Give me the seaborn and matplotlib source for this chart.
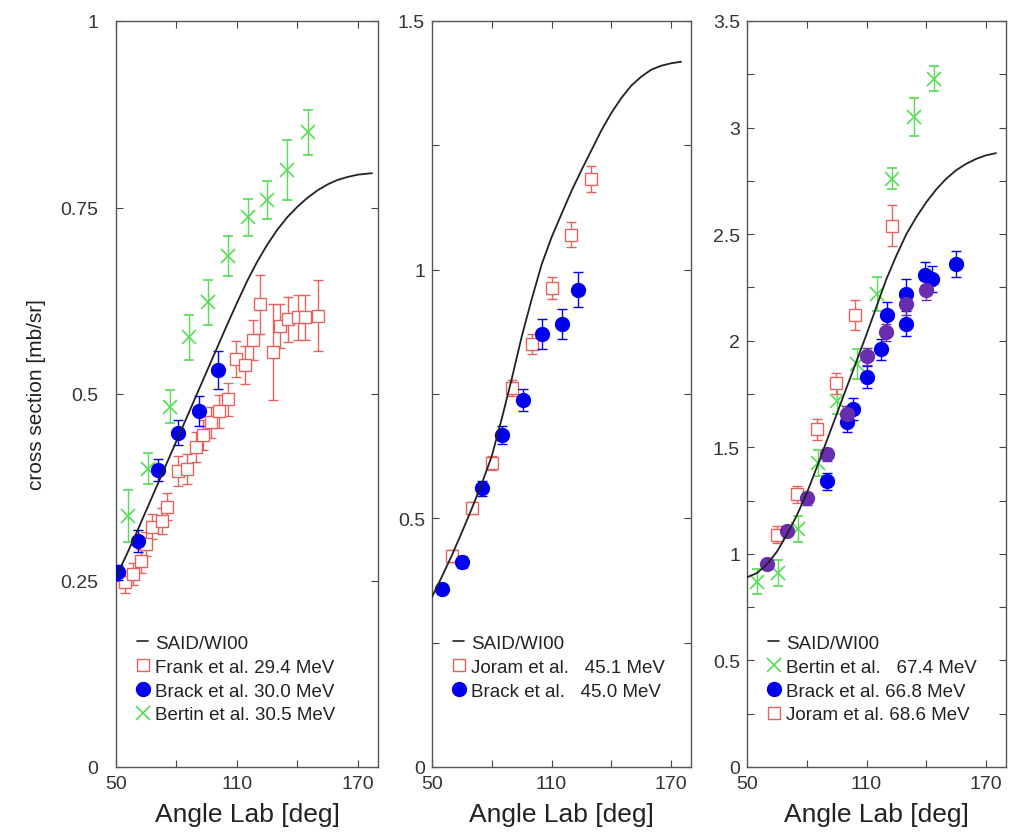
import numpy as np
import pandas as pd
import matplotlib
matplotlib.use("Agg")
import matplotlib.pyplot as plt
from matplotlib.lines import Line2D
import seaborn as sns

# ---------------- data ----------------
# Panel 1 (~30 MeV)
p1_curve_x = [50, 55, 60, 65, 70, 75, 80, 85, 90, 95, 100, 105, 110, 115, 120, 125, 130, 135, 140, 145, 150, 155, 160, 165, 170, 177]
p1_curve_y = [0.255, 0.283, 0.313, 0.344, 0.375, 0.406, 0.437, 0.468, 0.499, 0.530, 0.561, 0.592, 0.622, 0.651, 0.677, 0.700, 0.720, 0.737, 0.751, 0.763, 0.773, 0.781, 0.787, 0.791, 0.794, 0.796]
frank_x = [54.5, 58.5, 62.5, 65, 68, 73, 75.5, 81, 85, 89.5, 93, 97, 101, 105.5, 109.5, 114, 118, 121.5, 128, 131.5, 135.5, 140.5, 144, 150]
frank_y = [0.248, 0.259, 0.276, 0.299, 0.322, 0.330, 0.349, 0.397, 0.400, 0.429, 0.445, 0.462, 0.477, 0.493, 0.547, 0.539, 0.572, 0.620, 0.556, 0.591, 0.600, 0.603, 0.603, 0.605]
frank_e = [0.015, 0.015, 0.016, 0.016, 0.017, 0.017, 0.018, 0.02, 0.02, 0.02, 0.02, 0.021, 0.022, 0.022, 0.024, 0.025, 0.027, 0.04, 0.064, 0.03, 0.03, 0.03, 0.03, 0.048]
brack30_x = [51, 61, 71, 81, 91, 100.5]
brack30_y = [0.261, 0.303, 0.398, 0.448, 0.477, 0.532]
brack30_e = [0.01, 0.015, 0.015, 0.017, 0.02, 0.025]
bertin30_x = [56, 66, 77, 86, 95.5, 105.5, 115.5, 125, 135, 145.5]
bertin30_y = [0.336, 0.40, 0.483, 0.576, 0.623, 0.685, 0.737, 0.760, 0.80, 0.851]
bertin30_e = [0.035, 0.021, 0.022, 0.03, 0.03, 0.027, 0.025, 0.025, 0.04, 0.03]

# Panel 2 (~45 MeV)
p2_curve_x = [50, 55, 60, 65, 70, 75, 80, 85, 90, 95, 100, 105, 110, 115, 120, 125, 130, 135, 140, 145, 150, 155, 160, 165, 170, 175]
p2_curve_y = [0.342, 0.383, 0.426, 0.472, 0.52, 0.57, 0.625, 0.70, 0.78, 0.865, 0.94, 1.01, 1.065, 1.112, 1.158, 1.20, 1.24, 1.28, 1.315, 1.345, 1.37, 1.388, 1.402, 1.41, 1.415, 1.418]
joram45_x = [60, 70, 80, 90, 100, 110, 120, 130]
joram45_y = [0.424, 0.52, 0.612, 0.762, 0.85, 0.964, 1.07, 1.182]
joram45_e = [0.012, 0.012, 0.014, 0.016, 0.02, 0.022, 0.025, 0.026]
brack45_x = [55, 65, 75, 85, 95.5, 105, 115, 123.5]
brack45_y = [0.358, 0.412, 0.56, 0.668, 0.738, 0.87, 0.89, 0.96]
brack45_e = [0.01, 0.012, 0.015, 0.018, 0.022, 0.03, 0.03, 0.035]

# Panel 3 (~67 MeV)
p3_curve_x = [50, 55, 60, 65, 70, 75, 80, 85, 90, 95, 100, 105, 110, 115, 120, 125, 130, 135, 140, 145, 150, 155, 160, 165, 170, 175]
p3_curve_y = [0.89, 0.91, 0.95, 1.01, 1.09, 1.18, 1.285, 1.405, 1.53, 1.655, 1.78, 1.905, 2.03, 2.16, 2.29, 2.40, 2.50, 2.58, 2.65, 2.71, 2.76, 2.80, 2.83, 2.853, 2.87, 2.88]
bertin67_x = [55, 65.5, 75.5, 85.5, 95, 105, 115, 123, 134, 144]
bertin67_y = [0.87, 0.91, 1.116, 1.425, 1.716, 1.89, 2.22, 2.76, 3.05, 3.23]
bertin67_e = [0.06, 0.06, 0.06, 0.06, 0.06, 0.07, 0.08, 0.05, 0.09, 0.06]
brack67_x = [90, 100, 103, 110, 117.5, 120.5, 130, 130, 139.5, 143, 155]
brack67_y = [1.34, 1.62, 1.68, 1.83, 1.96, 2.12, 2.08, 2.22, 2.31, 2.29, 2.36]
brack67_e = [0.04, 0.05, 0.05, 0.05, 0.05, 0.06, 0.06, 0.07, 0.06, 0.06, 0.06]
brack67b_x = [60, 70, 80, 90, 100, 110, 120, 130, 140]
brack67b_y = [0.952, 1.106, 1.261, 1.467, 1.655, 1.927, 2.04, 2.17, 2.24]
brack67b_e = [0.02, 0.02, 0.03, 0.03, 0.04, 0.04, 0.04, 0.05, 0.05]
joram67_x = [65, 75, 85, 94.5, 104, 123]
joram67_y = [1.09, 1.28, 1.585, 1.80, 2.12, 2.54]
joram67_e = [0.04, 0.04, 0.05, 0.05, 0.07, 0.095]

# ---------------- style ----------------
sns.set_theme(style="ticks")
plt.rcParams["font.family"] = ["Liberation Sans", "DejaVu Sans"]

RED = "#e8615c"
BLUE = "#0000ee"
GREEN = "#55dd55"
PURPLE = "#6a2db0"
LINE = "#222222"

SQ = dict(marker="s", ms=8.5, mfc="white", mec=RED, mew=1.0)
DOT = dict(marker="o", ms=10, mfc=BLUE, mec=BLUE)
CRS = dict(marker="x", ms=10, mec=GREEN, mew=1.2)

fig = plt.figure(figsize=(10.25, 8.37), dpi=100)
H = 837.0
W = 1025.0
bottom = (H - 768) / H
height = (768 - 22) / H
axes = [
    fig.add_axes([116 / W, bottom, 262 / W, height]),
    fig.add_axes([432 / W, bottom, 259 / W, height]),
    fig.add_axes([747 / W, bottom, 259 / W, height]),
]

EB = dict(elinewidth=1.0, capsize=3.5, capthick=1.0, ls="none")


def sq(ax, x, y, e):
    ax.errorbar(x, y, yerr=e, ecolor=RED, zorder=3, **SQ, **EB)


def dot(ax, x, y, e, color=BLUE):
    st = dict(DOT)
    st["mfc"] = color
    st["mec"] = color
    ax.errorbar(x, y, yerr=e, ecolor=color, zorder=4, **st, **EB)


def cross(ax, x, y, e):
    ax.errorbar(x, y, yerr=e, ecolor=GREEN, zorder=3, **CRS, **EB)


def curve(ax, x, y):
    df = pd.DataFrame({"angle": x, "xs": y})
    sns.lineplot(data=df, x="angle", y="xs", ax=ax, color=LINE, lw=1.3, zorder=5, sort=True)


ax1, ax2, ax3 = axes

# Panel 1
curve(ax1, p1_curve_x, p1_curve_y)
sq(ax1, frank_x, frank_y, frank_e)
dot(ax1, brack30_x, brack30_y, brack30_e)
cross(ax1, bertin30_x, bertin30_y, bertin30_e)

# Panel 2
curve(ax2, p2_curve_x, p2_curve_y)
sq(ax2, joram45_x, joram45_y, joram45_e)
dot(ax2, brack45_x, brack45_y, brack45_e)

# Panel 3
curve(ax3, p3_curve_x, p3_curve_y)
cross(ax3, bertin67_x, bertin67_y, bertin67_e)
dot(ax3, brack67_x, brack67_y, brack67_e)
dot(ax3, brack67b_x, brack67b_y, brack67b_e, color=PURPLE)
sq(ax3, joram67_x, joram67_y, joram67_e)

# axes setup
limits = [(0, 1.0), (0, 1.5), (0, 3.5)]
yticks = [np.arange(0, 1.01, 0.25), np.arange(0, 1.51, 0.25), np.arange(0, 3.51, 0.25)]
ylabels_step = [0.25, 0.5, 0.5]
ypads = [13, 5, 5]
for ax, lim, yt, step, yp in zip(axes, limits, yticks, ylabels_step, ypads):
    ax.set_xlim(50, 180)
    ax.set_ylim(*lim)
    ax.set_xticks([50, 80, 110, 140, 170])
    ax.set_xticklabels(["50", "", "110", "", "170"])
    ax.set_yticks(yt)
    labs = []
    for v in yt:
        if abs(v / step - round(v / step)) < 1e-6:
            labs.append(f"{v:g}")
        else:
            labs.append("")
    ax.set_yticklabels(labs)
    ax.tick_params(direction="in", length=5, width=0.8, top=True, right=True,
                   labelsize=14, colors="#444444", labelcolor="#333333", pad=6)
    ax.tick_params(axis="y", pad=yp)
    for s in ax.spines.values():
        s.set_color("#555555")
        s.set_linewidth(1.0)
    ax.set_xlabel("Angle Lab [deg]", fontsize=19, color="#222222", labelpad=7)
    ax.set_ylabel("")

ax1.set_ylabel("cross section [mb/sr]", fontsize=15, color="#222222", labelpad=10)

# legends
said = Line2D([0], [0], color=LINE, lw=1.2)
h_sq = Line2D([0], [0], ls="none", **SQ)
h_dot = Line2D([0], [0], ls="none", **DOT)
h_crs = Line2D([0], [0], ls="none", **CRS)


def make_legend(ax, handles, labels):
    leg = ax.legend([said] + handles, ["SAID/WI00"] + labels, loc="upper left",
                    bbox_to_anchor=(0.03, 0.195), frameon=False, fontsize=13.5,
                    handlelength=0.6, handletextpad=0.35, labelspacing=0.36, borderpad=0.2)
    for t in leg.get_texts():
        t.set_color("#222222")


make_legend(ax1, [h_sq, h_dot, h_crs], ["Frank et al. 29.4 MeV", "Brack et al. 30.0 MeV", "Bertin et al. 30.5 MeV"])
make_legend(ax2, [h_sq, h_dot], ["Joram et al.   45.1 MeV", "Brack et al.   45.0 MeV"])
make_legend(ax3, [h_crs, h_dot, h_sq], ["Bertin et al.   67.4 MeV", "Brack et al. 66.8 MeV", "Joram et al. 68.6 MeV"])

fig.savefig("out.png", dpi=100)
